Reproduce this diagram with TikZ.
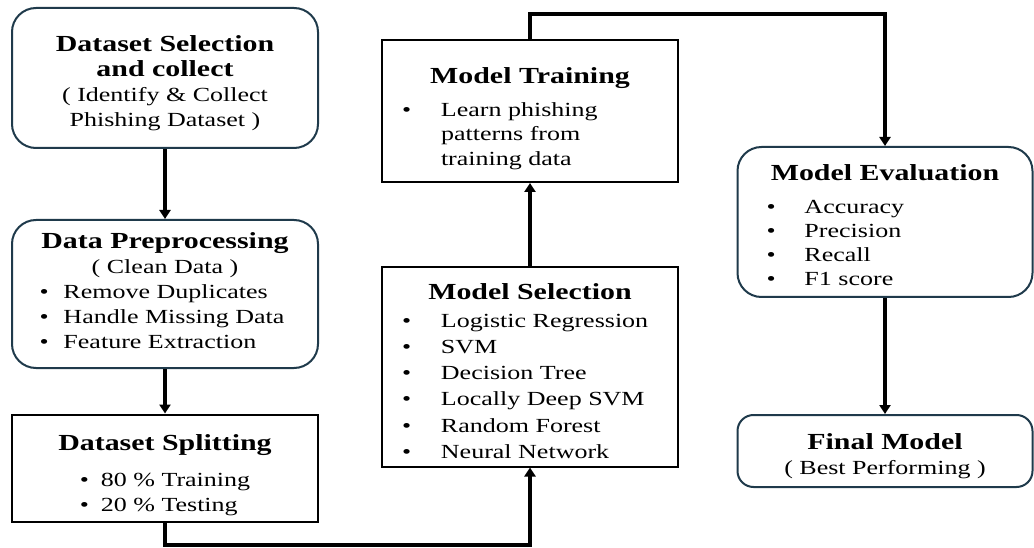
\documentclass[tikz,border=0pt]{standalone}
\usepackage{fontspec}
\setmainfont{Liberation Serif}[FakeStretch=1.3]
\usetikzlibrary{arrows.meta, positioning}
\definecolor{edge}{HTML}{1F3A4B}

\newcommand{\ttl}[1]{{\fontsize{23}{27}\selectfont\bfseries #1}}
\newcommand{\blist}[3]{{\setlength{\tabcolsep}{0pt}\begin{tabular}{@{}p{#1}#2@{}}#3\end{tabular}}}
\newcommand{\pad}[1]{\rule{0pt}{#1}}

\begin{document}
\begin{tikzpicture}[x=1pt, y=-1pt,
    rbox/.style={draw=edge, line width=2pt, rounded corners=24pt, fill=white,
        align=center, inner sep=0pt, font=\fontsize{20}{25}\selectfont},
    sbox/.style={draw=black, line width=2pt, fill=white,
        align=center, inner sep=0pt, font=\fontsize{20}{25}\selectfont},
    flow/.style={line width=3.2pt, -{Triangle[width=11pt,length=9pt]}}]
    \useasboundingbox (0,0) rectangle (1034,548);

    % left column
    \node[rbox, minimum width=306pt, minimum height=140pt] (sel) at (165,78)
        {\pad{27pt}\ttl{Dataset Selection}\\ \ttl{and collect}\\ ( Identify \& Collect\\ Phishing Dataset )};
    \node[rbox, minimum width=306pt, minimum height=148pt] (prep) at (165,294)
        {\ttl{Data Preprocessing}\\ ( Clean Data )\\[2pt]
         \blist{24pt}{l}{\textbullet & Remove Duplicates\\ \textbullet & Handle Missing Data\\ \textbullet & Feature Extraction}\hspace*{6pt}};
    \node[sbox, minimum width=306pt, minimum height=107pt] (split) at (165,468)
        {\pad{33pt}\ttl{Dataset Splitting}\\[12pt]
         \blist{21pt}{l}{\textbullet & 80 \% Training\\ \textbullet & 20 \% Testing}};

    % middle column
    \node[sbox, minimum width=296pt, minimum height=199pt] (msel) at (530,367)
        {\pad{32pt}\ttl{Model Selection}\\[8pt]
         \def\arraystretch{1.05}%
         \blist{39pt}{p{217pt}}{\textbullet & Logistic Regression\\ \textbullet & SVM\\ \textbullet & Decision Tree\\
         \textbullet & Locally Deep SVM\\ \textbullet & Random Forest\\ \textbullet & Neural Network}};
    \node[sbox, minimum width=296pt, minimum height=142pt] (mtrain) at (530,111)
        {\pad{34pt}\ttl{Model Training}\\[10pt]
         \def\arraystretch{0.97}%
         \blist{39pt}{p{217pt}}{\textbullet & Learn phishing\\ & patterns from\\ & training  data}};

    % right column
    \node[rbox, minimum width=295pt, minimum height=150pt] (meval) at (885,222)
        {\pad{30pt}\ttl{Model Evaluation}\\[14pt]
         \def\arraystretch{0.97}%
         \blist{38pt}{p{199pt}}{\textbullet & Accuracy\\ \textbullet & Precision\\ \textbullet & Recall\\ \textbullet & F1 score}};
    \node[rbox, rounded corners=16pt, minimum width=295pt, minimum height=72pt] (final) at (885,451)
        {\pad{26pt}\ttl{Final Model}\\ ( Best Performing )};

    \coordinate (low) at (530,545);
    \coordinate (top) at (530,14);

    \draw[flow] (sel) -- (prep);
    \draw[flow] (prep) -- (split);
    \draw[flow] (split.south) |- (low) -| (msel.south);
    \draw[flow] (msel) -- (mtrain);
    \draw[flow] (mtrain.north) -- (top) -| (meval.north);
    \draw[flow] (meval) -- (final);
\end{tikzpicture}
\end{document}
